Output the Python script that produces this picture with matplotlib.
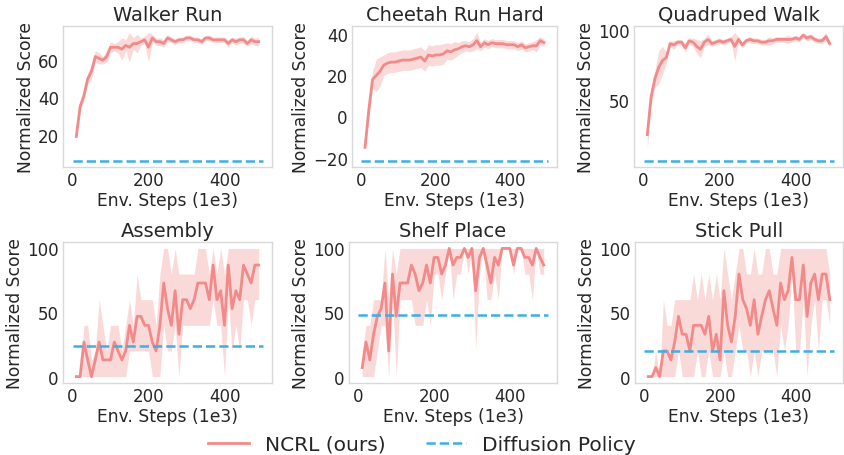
import matplotlib
matplotlib.use("Agg")
import matplotlib.pyplot as plt
import numpy as np

steps = np.arange(10, 500, 10)

titles = ["Walker Run", "Cheetah Run Hard", "Quadruped Walk", "Assembly", "Shelf Place", "Stick Pull"]

# dm_control tasks: mean and half-width of shaded band
walker_mean = [19, 35, 41, 50, 54, 62, 61, 60, 62, 67, 67, 67, 66, 68, 67, 69, 69, 70, 71, 67,
               72, 70, 70, 69, 72, 71, 70, 71, 71, 72, 72, 71, 71, 70, 72, 72, 71, 71, 71, 71,
               69, 71, 70, 71, 71, 69, 71, 70, 70]
walker_spread = [2, 2, 3, 3, 4, 3, 3, 2, 3, 3, 2, 3, 6, 3, 8, 3, 5, 2, 2, 8,
                 2, 2, 2, 2, 2, 1.5, 1.5, 1.5, 1.5, 1.5, 1.5, 1.5, 1.5, 1.5, 1.5, 1.5, 1.5, 1.5, 1.5, 1.5,
                 2, 1.5, 2, 1.5, 2, 1.5, 2, 2, 2.5]
cheetah_mean = [-15, 3, 18, 20, 22, 25, 26, 26.5, 26.5, 27, 27.5, 27.5, 27.5, 28, 28.5, 29, 27, 30, 29.5, 30,
                30, 30.5, 32, 31.5, 32.5, 33, 34, 34.5, 34, 35, 37, 34, 36, 35, 36, 35.5, 35.5, 35.5, 35, 35,
                35, 34, 35, 33.5, 34, 34.5, 34.5, 37, 36]
cheetah_spread = [2, 5, 4, 8, 7, 5, 5, 5, 5, 5, 5, 5, 5, 5, 5, 5, 5, 5, 5, 5,
                  5, 5, 4, 4, 4, 3, 3, 2.5, 2.5, 3, 4, 2, 2, 2, 2, 2, 2, 2, 2, 2,
                  2, 2, 2, 2, 2, 2, 3, 2, 2]
quadruped_mean = [25, 52, 65, 73, 78, 80, 90, 89, 91, 91, 87, 92, 91, 88, 86, 91, 93, 90, 91, 92,
                  91, 92, 93, 88, 93, 89, 92, 93, 92, 92, 91, 91, 92, 92, 93, 93, 93, 93, 93, 94,
                  93, 96, 94, 95, 93, 92, 92, 95, 90]
quadruped_spread = [10, 6, 6, 12, 10, 4, 2, 3, 2, 2, 3, 2, 3, 5, 6, 3, 4, 2, 2, 2,
                    2, 2, 2, 10, 2, 2, 2, 2, 2, 2, 2, 2, 3, 2, 2, 2, 2, 3, 2, 2,
                    2, 2, 2, 2, 2, 2, 2, 3, 2]

# metaworld tasks: mean, lower and upper edge of shaded band
assembly_mean = [0, 0, 27, 13, 0, 13, 27, 13, 13, 13, 27, 20, 13, 20, 40, 27, 47, 47, 40, 40,
                 27, 20, 40, 73, 53, 40, 67, 33, 60, 60, 53, 60, 73, 73, 73, 60, 87, 60, 67, 40,
                 87, 53, 67, 60, 87, 80, 73, 87, 87]
assembly_lo = [0, 0, 0, 0, 0, 0, 0, 0, 0, 0, 0, 0, 0, 0, 20, 20, 20, 20, 20, 20,
               0, 0, 0, 40, 20, 20, 40, 0, 40, 40, 40, 40, 40, 40, 40, 40, 60, 40, 40, 0,
               60, 20, 40, 20, 60, 60, 40, 60, 60]
assembly_hi = [0, 0, 40, 40, 13, 20, 60, 40, 20, 40, 40, 40, 20, 40, 60, 40, 80, 60, 60, 60,
               60, 40, 80, 100, 100, 80, 100, 80, 80, 80, 80, 80, 100, 100, 100, 80, 100, 80, 100, 80,
               100, 100, 100, 100, 100, 100, 100, 100, 100]
shelf_mean = [7, 27, 13, 33, 47, 53, 73, 20, 80, 47, 73, 73, 73, 87, 80, 67, 73, 87, 73, 93,
              93, 80, 87, 100, 87, 93, 93, 100, 93, 100, 67, 93, 100, 87, 73, 93, 87, 100, 100, 100,
              87, 100, 100, 93, 93, 87, 100, 93, 87]
shelf_lo = [0, 0, 0, 0, 20, 40, 40, 0, 60, 0, 60, 60, 60, 60, 40, 40, 40, 60, 40, 80,
            80, 60, 80, 100, 60, 80, 80, 100, 80, 100, 20, 80, 100, 60, 60, 80, 60, 100, 100, 100,
            80, 100, 100, 80, 80, 60, 100, 80, 80]
shelf_hi = [20, 40, 40, 60, 60, 60, 100, 60, 100, 80, 100, 100, 100, 100, 100, 100, 100, 100, 100, 100,
            100, 100, 100, 100, 100, 100, 100, 100, 100, 100, 100, 100, 100, 100, 100, 100, 100, 100, 100, 100,
            100, 100, 100, 100, 100, 100, 100, 100, 100]
stick_mean = [0, 0, 7, 0, 20, 20, 13, 27, 47, 33, 33, 20, 40, 40, 40, 33, 47, 20, 33, 13,
              67, 40, 27, 47, 80, 60, 53, 40, 60, 33, 47, 60, 67, 53, 40, 73, 60, 67, 93, 60,
              60, 87, 47, 73, 80, 60, 80, 80, 60]
stick_lo = [0, 0, 0, 0, 0, 0, 0, 0, 20, 0, 0, 0, 0, 20, 0, 0, 20, 0, 0, 0,
            20, 0, 0, 20, 40, 20, 20, 0, 20, 0, 20, 20, 20, 20, 0, 40, 20, 40, 80, 20,
            20, 60, 0, 40, 60, 20, 60, 60, 40]
stick_hi = [0, 0, 20, 0, 60, 40, 40, 60, 60, 60, 60, 60, 80, 60, 80, 60, 80, 60, 80, 60,
            100, 80, 60, 80, 100, 100, 80, 80, 100, 80, 80, 100, 100, 80, 80, 100, 100, 100, 100, 100,
            100, 100, 100, 100, 100, 100, 100, 100, 80]

diffusion = [6, -21.5, 6.5, 24, 48, 20]
yticks = [[20, 40, 60], [-20, 0, 20, 40], [50, 100], [0, 50, 100], [0, 50, 100], [0, 50, 100]]

NCRL_COLOR = "#F28A8A"
BAND_COLOR = "#F7B5B5"
DP_COLOR = "#3DAEE6"
TEXT_COLOR = "#262626"

W, H = 844, 456
# axes boxes in pixels: left, top, right, bottom
boxes = [
    (63, 27, 272, 168), (352, 27, 557, 168), (634, 27, 843, 168),
    (63, 243, 272, 384), (349, 243, 557, 384), (635, 243, 843, 384),
]

plt.rcParams["font.family"] = "DejaVu Sans"
plt.rcParams["text.color"] = TEXT_COLOR
plt.rcParams["axes.labelcolor"] = TEXT_COLOR
plt.rcParams["xtick.color"] = TEXT_COLOR
plt.rcParams["ytick.color"] = TEXT_COLOR


def band_from_spread(mean, spread):
    m = np.array(mean, dtype=float)
    s = np.array(spread, dtype=float)
    return m, m - s, m + s


series = [
    band_from_spread(walker_mean, walker_spread),
    band_from_spread(cheetah_mean, cheetah_spread),
    band_from_spread(quadruped_mean, quadruped_spread),
    (np.array(assembly_mean), np.array(assembly_lo), np.array(assembly_hi)),
    (np.array(shelf_mean), np.array(shelf_lo), np.array(shelf_hi)),
    (np.array(stick_mean), np.array(stick_lo), np.array(stick_hi)),
]

fig = plt.figure(figsize=(W / 100, H / 100), dpi=100)
axes = []
for l, t, r, b in boxes:
    axes.append(fig.add_axes([l / W, 1 - b / H, (r - l) / W, (b - t) / H]))

for ax, title, (mean, lo, hi), dp, ticks in zip(axes, titles, series, diffusion, yticks):
    ax.fill_between(steps, lo, hi, color=BAND_COLOR, alpha=0.5, linewidth=0)
    ax.plot(steps, mean, color=NCRL_COLOR, lw=2, label="NCRL (ours)")
    ax.plot([0, 500], [dp, dp], color=DP_COLOR, lw=1.8, ls="--", label="Diffusion Policy")
    ax.set_yticks(ticks)
    ax.set_xticks([0, 200, 400])
    ax.set_title(title, fontsize=14, pad=4)
    ax.set_xlabel("Env. Steps (1e3)", fontsize=12.3, labelpad=1)
    ax.set_ylabel("Normalized Score", fontsize=12.3, labelpad=2)
    ax.tick_params(length=0, labelsize=12, pad=3)
    for sp in ax.spines.values():
        sp.set_color("#d9d9d9")
        sp.set_linewidth(1)

handles, labels = axes[0].get_legend_handles_labels()
fig.legend(handles, labels, loc="center", bbox_to_anchor=(0.5, 0.024), ncol=2, frameon=False,
           fontsize=14.5, handlelength=2.0, columnspacing=2.0)

fig.savefig("out.png", dpi=100)
